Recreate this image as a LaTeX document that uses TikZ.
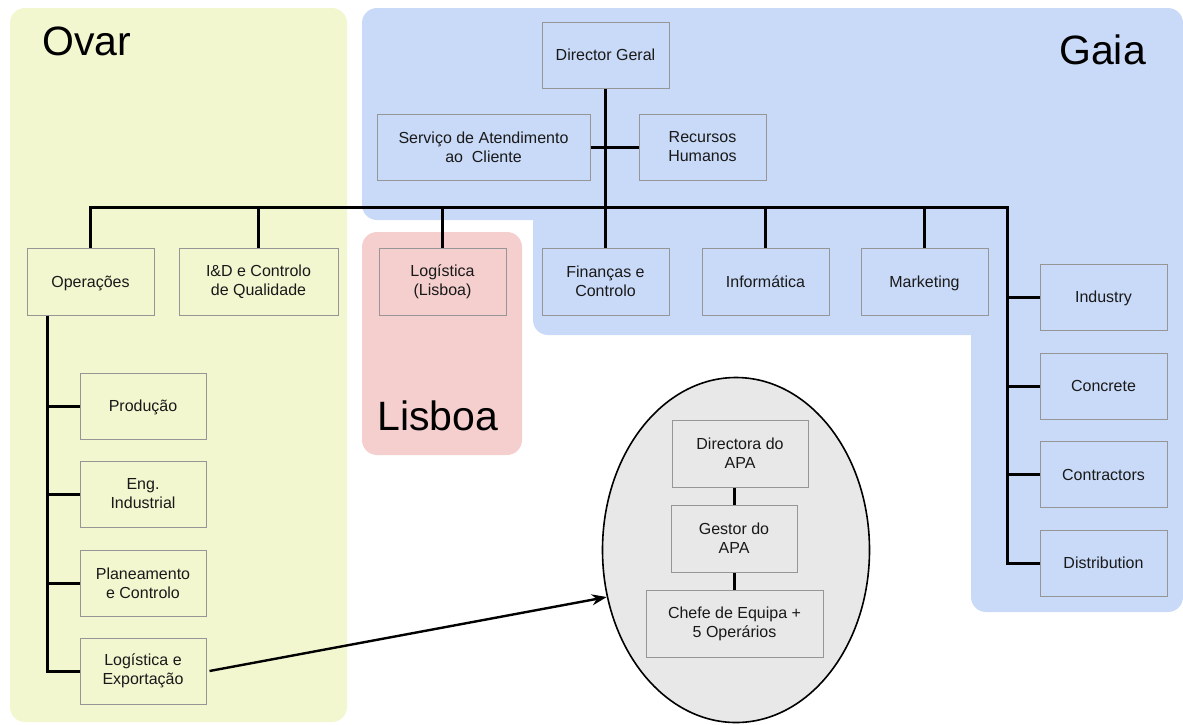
\documentclass[tikz,border=0pt]{standalone}
\usepackage{fontspec}
\setmainfont{Liberation Sans}
\usepackage{tikz}
\usetikzlibrary{arrows.meta,shapes.geometric}
\definecolor{ogyellow}{RGB}{243,247,208}
\definecolor{ogblue}{RGB}{201,218,248}
\definecolor{ogpink}{RGB}{245,206,206}
\definecolor{oggray}{RGB}{232,232,232}
\definecolor{ogline}{RGB}{150,150,150}
\tikzset{
  ogbox/.style={draw=ogline, line width=1pt, align=center, inner sep=0pt,
    minimum width=127pt, minimum height=66pt, text=black!90,
    font=\fontsize{16}{19}\selectfont},
  ogone/.style={ogbox, text depth=0pt},
  oglink/.style={line width=3pt, draw=black},
  ogarrow/.style={-{Stealth[length=15pt,width=11pt]}, line width=2.4pt, draw=black},
  ogtitle/.style={anchor=base west, inner sep=0pt, text=black,
    font=\fontsize{41}{45}\selectfont}
}

\begin{document}
\begin{tikzpicture}[x=1pt, y=-1pt]
  \useasboundingbox (0,0) rectangle (1183,724);
  % sites
  \fill[ogyellow, rounded corners=15] (10,8) rectangle (347,722);
  \fill[ogblue, rounded corners=15] (362,8) rectangle (1183,220);
  \fill[ogblue, rounded corners=15] (533,100) rectangle (1183,335);
  \fill[ogblue, rounded corners=15] (971,100) rectangle (1183,612);
  \fill[ogpink, rounded corners=15] (362,232) rectangle (522,455);
  \node[ogtitle] (tovar) at (42,55) {Ovar};
  \node[ogtitle] (tgaia) at (1059,64) {Gaia};
  \node[ogtitle] (tlisb) at (377,430) {Lisboa};
  % top of the tree
  \node[ogone] (dg) at (605.5,55) {Director Geral};
  \node[ogbox, minimum width=213pt] (sac) at (483.5,147) {Serviço de Atendimento\\ao\ \ Cliente};
  \node[ogbox] (rh) at (702.5,147) {Recursos\\Humanos};
  % departments
  \node[ogone, minimum height=67pt] (op) at (90.5,281.5) {Operações};
  \node[ogbox, minimum width=159pt, minimum height=67pt] (id) at (258.5,281.5) {I\&D e Controlo\\de Qualidade};
  \node[ogbox, minimum height=67pt] (loglx) at (442.5,281.5) {Logística\\(Lisboa)};
  \node[ogbox, minimum height=67pt] (fin) at (605.5,281.5) {Finanças e\\Controlo};
  \node[ogone, minimum height=67pt] (inf) at (765.5,281.5) {Informática};
  \node[ogone, minimum height=67pt] (mkt) at (924.5,281.5) {Marketing};
  % business units
  \node[ogone] (ind) at (1103.5,297) {Industry};
  \node[ogone] (conc) at (1103.5,386) {Concrete};
  \node[ogone] (contr) at (1103.5,474.5) {Contractors};
  \node[ogone] (dist) at (1103.5,563) {Distribution};
  % operations
  \node[ogone, minimum width=126pt] (prod) at (143,406) {Produção};
  \node[ogbox, minimum width=126pt] (eng) at (143,494) {Eng.\\Industrial};
  \node[ogbox, minimum width=126pt] (plan) at (143,583) {Planeamento\\e Controlo};
  \node[ogbox, minimum width=126pt] (logex) at (143,671) {Logística e\\Exportação};
  % APA
  \node[ellipse, draw=black, line width=1.6pt, fill=oggray, minimum width=267pt,
    minimum height=345pt] (apa) at (736,550) {};
  \node[ogbox, minimum width=136pt, minimum height=67pt] (dapa) at (740,453.5) {Directora do\\APA};
  \node[ogbox, minimum width=126pt, minimum height=67pt] (gapa) at (734,538.5) {Gestor do\\APA};
  \node[ogbox, minimum width=177pt, minimum height=67pt] (chefe) at (734.5,623.5) {Chefe de Equipa +\\5 Operários};
  % connectors
  \coordinate (busR) at (1007,207);
  \coordinate (opdrop) at ([xshift=21pt]op.south west);
  \draw[oglink] (op.north) |- (busR) |- (dist.west);
  \draw[oglink] (dg.south) -- (dg.south |- busR);
  \draw[oglink] (sac.east) -- (rh.west);
  \foreach \n in {id,loglx,fin,inf,mkt}
    \draw[oglink] (\n.north) -- (\n.north |- busR);
  \foreach \n in {ind,conc,contr}
    \draw[oglink] (\n.west) -- (\n.west -| busR);
  \draw[oglink] (opdrop) |- (logex.west);
  \foreach \n in {prod,eng,plan}
    \draw[oglink] (\n.west) -- (\n.west -| opdrop);
  \draw[oglink] (gapa.north) -- (gapa.north |- dapa.south);
  \draw[oglink] (gapa.south) -- (gapa.south |- chefe.north);
  \draw[ogarrow] ([xshift=3pt]logex.east) -- (apa.200);
\end{tikzpicture}
\end{document}
